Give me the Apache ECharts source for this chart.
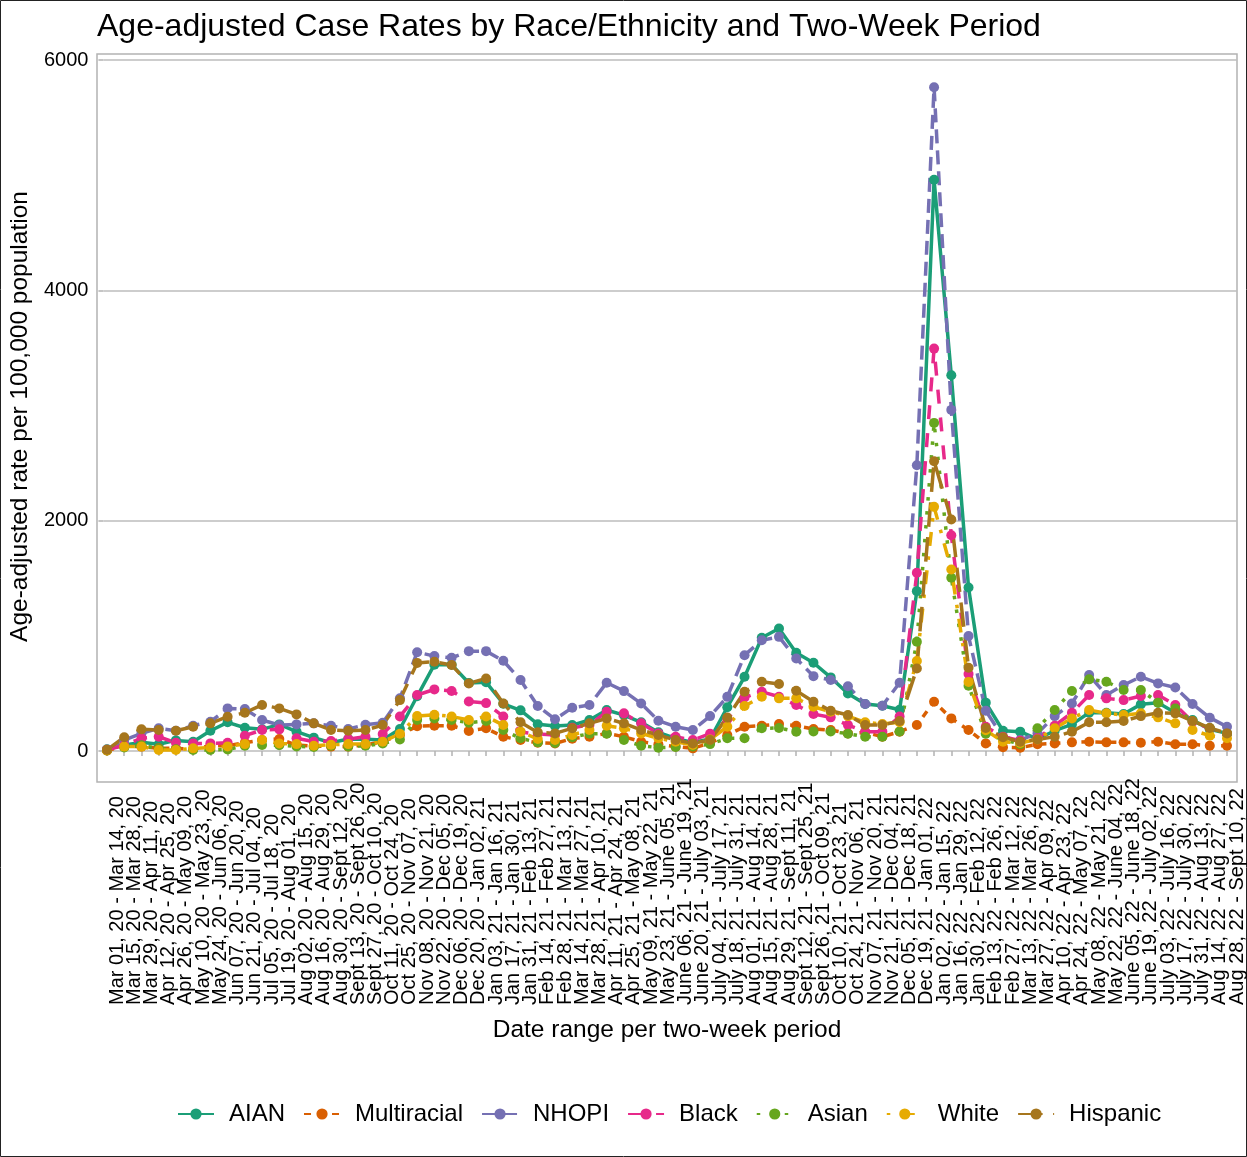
<!DOCTYPE html>
<html><head><meta charset="utf-8">
<script src="https://cdn.jsdelivr.net/npm/echarts@6/dist/echarts.min.js"></script>
<style>html,body{margin:0;padding:0;background:#fff}#c{width:1247px;height:1157px}</style>
</head><body><div id="c"></div><script>
const categories = [
"Mar 01, 20 - Mar 14, 20","Mar 15, 20 - Mar 28, 20","Mar 29, 20 - Apr 11, 20","Apr 12, 20 - Apr 25, 20",
"Apr 26, 20 - May 09, 20","May 10, 20 - May 23, 20","May 24, 20 - Jun 06, 20","Jun 07, 20 - Jun 20, 20",
"Jun 21, 20 - Jul 04, 20","Jul 05, 20 - Jul 18, 20","Jul 19, 20 - Aug 01, 20","Aug 02, 20 - Aug 15, 20",
"Aug 16, 20 - Aug 29, 20","Aug 30, 20 - Sept 12, 20","Sept 13, 20 - Sept 26, 20","Sept 27, 20 - Oct 10, 20",
"Oct 11, 20 - Oct 24, 20","Oct 25, 20 - Nov 07, 20","Nov 08, 20 - Nov 21, 20","Nov 22, 20 - Dec 05, 20",
"Dec 06, 20 - Dec 19, 20","Dec 20, 20 - Jan 02, 21","Jan 03, 21 - Jan 16, 21","Jan 17, 21 - Jan 30, 21",
"Jan 31, 21 - Feb 13, 21","Feb 14, 21 - Feb 27, 21","Feb 28, 21 - Mar 13, 21","Mar 14, 21 - Mar 27, 21",
"Mar 28, 21 - Apr 10, 21","Apr 11, 21 - Apr 24, 21","Apr 25, 21 - May 08, 21","May 09, 21 - May 22, 21",
"May 23, 21 - June 05, 21","June 06, 21 - June 19, 21","June 20, 21 - July 03, 21","July 04, 21 - July 17, 21",
"July 18, 21 - July 31, 21","Aug 01, 21 - Aug 14, 21","Aug 15, 21 - Aug 28, 21","Aug 29, 21 - Sept 11, 21",
"Sept 12, 21 - Sept 25, 21","Sept 26, 21 - Oct 09, 21","Oct 10, 21 - Oct 23, 21","Oct 24, 21 - Nov 06, 21",
"Nov 07, 21 - Nov 20, 21","Nov 21, 21 - Dec 04, 21","Dec 05, 21 - Dec 18, 21","Dec 19, 21 - Jan 01, 22",
"Jan 02, 22 - Jan 15, 22","Jan 16, 22 - Jan 29, 22","Jan 30, 22 - Feb 12, 22","Feb 13, 22 - Feb 26, 22",
"Feb 27, 22 - Mar 12, 22","Mar 13, 22 - Mar 26, 22","Mar 27, 22 - Apr 09, 22","Apr 10, 22 - Apr 23, 22",
"Apr 24, 22 - May 07, 22","May 08, 22 - May 21, 22","May 22, 22 - June 04, 22","June 05, 22 - June 18, 22",
"June 19, 22 - July 02, 22","July 03, 22 - July 16, 22","July 17, 22 - July 30, 22","July 31, 22 - Aug 13, 22",
"Aug 14, 22 - Aug 27, 22","Aug 28, 22 - Sept 10, 22"
];
const aian = [15,52,75,58,92,81,176,249,202,188,231,168,116,72,104,101,95,191,475,750,750,590,598,410,353,233,217,225,269,356,312,249,162,110,75,104,380,644,983,1064,853,766,639,500,408,393,358,1388,4960,3262,1420,420,176,168,104,176,231,332,332,321,405,419,332,269,188,153];
const multiracial = [5,40,38,23,23,15,46,46,72,95,104,52,43,38,38,52,81,140,215,220,220,174,197,124,95,72,66,107,124,153,124,81,58,38,23,70,139,211,220,234,220,191,182,153,162,124,168,225,428,283,182,66,32,29,58,66,75,81,75,75,72,81,58,58,46,46];
const nhopi = [10,95,153,197,176,220,254,370,364,269,225,231,240,220,191,228,246,457,858,824,809,867,867,783,616,390,275,376,399,593,520,413,263,211,182,303,470,832,962,991,803,650,616,563,408,393,593,2481,5764,2962,998,350,120,95,153,303,413,659,486,573,645,587,552,408,289,211];
const black = [10,50,110,124,72,66,66,72,133,182,188,110,81,87,104,124,147,300,486,535,521,430,416,300,165,147,139,202,225,341,327,240,153,124,95,150,275,465,514,471,399,321,292,225,168,168,300,1547,3494,1874,668,211,124,90,110,220,332,486,457,442,477,486,399,254,197,150];
const asian = [5,30,50,20,15,9,9,14,46,52,50,40,35,45,40,45,66,100,269,283,269,246,260,182,110,75,70,120,150,150,95,46,29,35,40,60,110,110,197,200,168,170,170,150,124,124,170,949,2849,1504,567,150,100,60,197,356,521,622,602,529,529,420,370,260,200,150];
const white = [5,38,38,9,9,23,30,40,60,95,66,60,45,55,60,60,80,150,303,315,300,269,300,225,168,104,95,139,182,220,197,153,110,81,52,100,211,390,471,457,457,384,341,303,249,234,249,781,2120,1576,600,180,80,70,100,197,283,356,327,312,327,292,240,182,133,110];
const hispanic = [10,120,188,182,176,211,240,298,332,400,370,318,240,182,176,182,225,442,765,775,746,587,630,413,249,162,153,197,240,283,240,182,139,95,66,95,290,514,601,581,523,428,350,312,225,225,260,717,2516,2010,723,200,120,80,100,124,168,249,249,260,303,332,327,260,200,153];
const yTicks = [0, 2000, 4000, 6000];

const FONT = '"Liberation Sans", Arial, sans-serif';
const LW = 3.5;
const defs = [
  {name:'AIAN', data:aian, color:'#1B9E77', type:'solid'},
  {name:'Multiracial', data:multiracial, color:'#D95F02', type:[7,7]},
  {name:'NHOPI', data:nhopi, color:'#7570B3', type:[14,7]},
  {name:'Black', data:black, color:'#E7298A', type:[14,14]},
  {name:'Asian', data:asian, color:'#66A61E', type:[3.5,10.5]},
  {name:'White', data:white, color:'#E6AB02', type:[3.5,10.5,14,10.5]},
  {name:'Hispanic', data:hispanic, color:'#A6761D', type:[24.5,10.5]}
];
const chart = echarts.init(document.getElementById('c'));
chart.setOption({
  animation:false,
  backgroundColor:'#fff',
  title:{text:'Age-adjusted Case Rates by Race/Ethnicity and Two-Week Period', left:92, top:6,
    textStyle:{fontFamily:FONT, fontSize:32, fontWeight:'normal', color:'#000'}},
  grid:[
    {left:107, right:20, top:60, bottom:406},
    {left:97, right:10, top:60, bottom:406}
  ],
  xAxis:[
    {type:'category', gridIndex:0, data:categories, boundaryGap:false, offset:31,
     axisLine:{show:false},
     axisTick:{show:true, length:5, interval:0, lineStyle:{color:'#b3b3b3', width:1.5}},
     axisLabel:{interval:0, rotate:90, align:'left', verticalAlign:'top', margin:223, fontSize:20, color:'#000', fontFamily:FONT},
     name:'Date range per two-week period', nameLocation:'middle', nameGap:236,
     nameTextStyle:{fontSize:24.5, color:'#000', fontFamily:FONT}},
    {type:'value', gridIndex:1, show:false, min:0, max:1}
  ],
  yAxis:[
    {type:'value', gridIndex:0, min:0, max:6000, show:false},
    {type:'value', gridIndex:1, min:0, max:6000, interval:2000,
     axisLine:{show:false},
     axisTick:{show:true, length:5, lineStyle:{color:'#b3b3b3', width:1.5}},
     axisLabel:{fontSize:20, color:'#000', margin:15, fontFamily:FONT,
       formatter:function(v){return yTicks.indexOf(v)>=0 ? String(v) : '';}},
     splitLine:{lineStyle:{color:'#bdbdbd', width:1.5}},
     name:'Age-adjusted rate per 100,000 population', nameLocation:'middle', nameGap:56,
     nameTextStyle:{fontSize:24.5, color:'#000', fontFamily:FONT, padding:[0,22,0,0]}}
  ],
  legend:{left:172, top:1097, itemWidth:36, itemHeight:14, itemGap:18,
    textStyle:{fontSize:24, color:'#000', fontFamily:FONT, padding:[0,0,0,10]},
    data:defs.map(d=>d.name)},
  graphic:[
    {type:'rect', shape:{x:97, y:54, width:1140, height:728}, style:{fill:'none', stroke:'#b3b3b3', lineWidth:1.5}, silent:true, z:0},
    {type:'rect', shape:{x:0.5, y:0.5, width:1246, height:1156}, style:{fill:'none', stroke:'#222', lineWidth:1}, silent:true, z:0}
  ],
  series:defs.map(d=>({
    name:d.name, type:'line', xAxisIndex:0, yAxisIndex:0, data:d.data,
    symbol:'circle', symbolSize:10, showSymbol:true, showAllSymbol:true,
    itemStyle:{color:d.color},
    lineStyle:{color:d.color, width:LW, type:d.type, cap:'butt'}
  }))
});
</script></body></html>
